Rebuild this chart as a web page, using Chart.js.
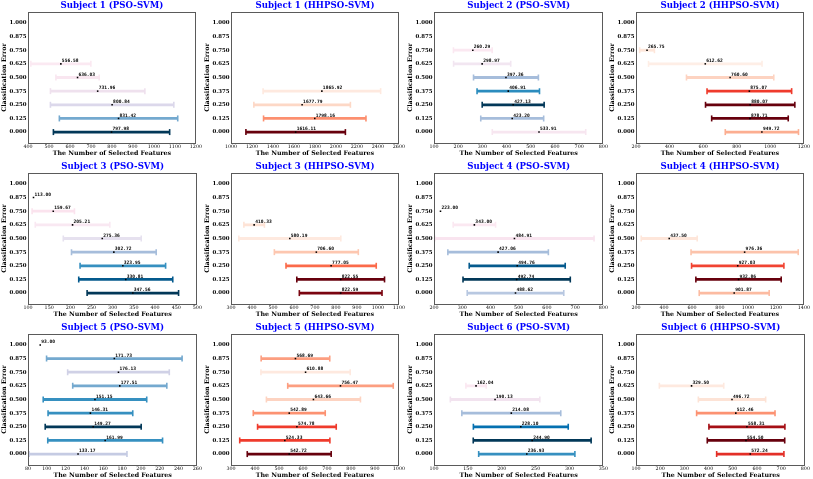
<!DOCTYPE html>
<html>
<head>
<meta charset="utf-8">
<script src="https://cdn.jsdelivr.net/npm/chart.js@4.4.1/dist/chart.umd.min.js"></script>
<style>
  html, body { margin: 0; padding: 0; background: #fff; }
  #wrap { position: relative; width: 813px; height: 479px; overflow: hidden; }
  #wrap canvas { position: absolute; }
</style>
</head>
<body>
<div id="wrap"></div>
<script>
const yTicks = [0, 0.125, 0.25, 0.375, 0.5, 0.625, 0.75, 0.875, 1.0];

// Subject 1
const s1PsoErr = [0.625, 0.5, 0.375, 0.25, 0.125, 0];
const s1PsoMean = [556.58, 636.03, 731.96, 800.84, 831.42, 797.98];
const s1PsoStd = [143, 103, 225, 294, 282, 277];
const s1PsoX = [400, 500, 600, 700, 800, 900, 1000, 1100, 1200];
const s1PsoColors = ['#fbe9f2', '#f9e6f0', '#efe1ee', '#dcd8eb', '#74a9cf', '#023858'];

const s1HhErr = [0.375, 0.25, 0.125, 0];
const s1HhMean = [1865.92, 1677.79, 1798.16, 1616.11];
const s1HhStd = [560, 460, 488, 474];
const s1HhX = [1000, 1200, 1400, 1600, 1800, 2000, 2200, 2400, 2600];
const s1HhColors = ['#fee9df', '#fdd8c6', '#fc8f6f', '#67000d'];

// Subject 2
const s2PsoErr = [0.75, 0.625, 0.5, 0.375, 0.25, 0.125, 0];
const s2PsoMean = [260.29, 298.97, 397.36, 406.91, 427.13, 423.20, 533.91];
const s2PsoStd = [80, 118, 134, 129, 128, 130, 193];
const s2PsoX = [100, 200, 300, 400, 500, 600, 700, 800];
const s2PsoColors = ['#fbe8f1', '#f2e6f1', '#a6bddb', '#2b8cbe', '#023858', '#a6bddb', '#f7e6f0'];

const s2HhErr = [0.75, 0.625, 0.5, 0.375, 0.25, 0.125, 0];
const s2HhMean = [265.75, 612.62, 760.60, 875.07, 880.07, 878.71, 949.72];
const s2HhStd = [44, 338, 260, 252, 266, 228, 218];
const s2HhX = [200, 400, 600, 800, 1000, 1200];
const s2HhColors = ['#fee6da', '#feeee6', '#fdd3c1', '#ef3b2c', '#67000d', '#67000d', '#fcae91'];

// Subject 3
const s3PsoErr = [0.875, 0.75, 0.625, 0.5, 0.375, 0.25, 0.125, 0];
const s3PsoMean = [113.00, 159.67, 205.21, 275.36, 302.72, 323.95, 330.81, 347.56];
const s3PsoStd = [0, 50, 88, 92, 100, 101, 111, 108];
const s3PsoX = [100, 150, 200, 250, 300, 350, 400, 450, 500];
const s3PsoColors = ['#000000', '#fbe3ee', '#f9e8f2', '#e6e1ef', '#a6bddb', '#3690c0', '#045a8d', '#023858'];

const s3HhErr = [0.625, 0.5, 0.375, 0.25, 0.125, 0];
const s3HhMean = [410.33, 580.19, 706.60, 777.05, 822.55, 822.59];
const s3HhStd = [49, 243, 200, 215, 209, 197];
const s3HhX = [300, 400, 500, 600, 700, 800, 900, 1000, 1100];
const s3HhColors = ['#fee3d6', '#fee9df', '#fdc7b0', '#fb6a4a', '#67000d', '#7a0510'];

// Subject 4
const s4PsoErr = [0.75, 0.625, 0.5, 0.375, 0.25, 0.125, 0];
const s4PsoMean = [223.00, 343.00, 484.91, 427.06, 494.76, 492.74, 488.62];
const s4PsoStd = [0, 75, 282, 178, 170, 190, 171];
const s4PsoX = [200, 300, 400, 500, 600, 700, 800];
const s4PsoColors = ['#000000', '#fbe8f1', '#f9e4ef', '#a6bddb', '#045a8d', '#023858', '#b8c8e1'];

const s4HhErr = [0.5, 0.375, 0.25, 0.125, 0];
const s4HhMean = [437.50, 976.36, 927.03, 932.86, 901.87];
const s4HhStd = [200, 383, 330, 305, 250];
const s4HhX = [200, 400, 600, 800, 1000, 1200, 1400];
const s4HhColors = ['#fee6da', '#fcc3ab', '#f14432', '#67000d', '#fcbba1'];

// Subject 5
const s5PsoErr = [1, 0.875, 0.75, 0.625, 0.5, 0.375, 0.25, 0.125, 0];
const s5PsoMean = [93.00, 171.73, 176.13, 177.51, 151.15, 146.31, 149.27, 161.99, 133.17];
const s5PsoStd = [0, 72, 54, 50, 55, 45, 51, 61, 52];
const s5PsoX = [80, 100, 120, 140, 160, 180, 200, 220, 240, 260];
const s5PsoColors = ['#000000', '#74a9cf', '#d0d1e6', '#74a9cf', '#3690c0', '#3690c0', '#023858', '#3690c0', '#c5cbe3'];

const s5HhErr = [0.875, 0.75, 0.625, 0.5, 0.375, 0.25, 0.125, 0];
const s5HhMean = [568.69, 610.88, 756.47, 643.66, 542.89, 574.78, 524.33, 542.72];
const s5HhStd = [143, 186, 220, 196, 150, 164, 188, 175];
const s5HhX = [300, 400, 500, 600, 700, 800, 900, 1000];
const s5HhColors = ['#fc9e80', '#fee9df', '#fc9e80', '#fdd3c1', '#fc9272', '#ef3b2c', '#ef3b2c', '#67000d'];

// Subject 6
const s6PsoErr = [0.625, 0.5, 0.375, 0.25, 0.125, 0];
const s6PsoMean = [162.04, 190.13, 214.08, 228.10, 244.90, 236.93];
const s6PsoStd = [15, 66, 73, 70, 87, 71];
const s6PsoX = [100, 150, 200, 250, 300, 350];
const s6PsoColors = ['#fbe8f1', '#f2e3ef', '#a6bddb', '#0570b0', '#023858', '#3690c0'];

const s6HhErr = [0.625, 0.5, 0.375, 0.25, 0.125, 0];
const s6HhMean = [329.50, 496.72, 512.46, 558.31, 554.50, 572.24];
const s6HhStd = [133, 139, 162, 157, 160, 139];
const s6HhX = [100, 200, 300, 400, 500, 600, 700, 800];
const s6HhColors = ['#fee9df', '#fde3d6', '#fc9272', '#a50f15', '#67000d', '#e32f27'];

const panels = [
  { title: 'Subject 1 (PSO-SVM)', err: s1PsoErr, mean: s1PsoMean, std: s1PsoStd, xt: s1PsoX, colors: s1PsoColors },
  { title: 'Subject 1 (HHPSO-SVM)', err: s1HhErr, mean: s1HhMean, std: s1HhStd, xt: s1HhX, colors: s1HhColors },
  { title: 'Subject 2 (PSO-SVM)', err: s2PsoErr, mean: s2PsoMean, std: s2PsoStd, xt: s2PsoX, colors: s2PsoColors },
  { title: 'Subject 2 (HHPSO-SVM)', err: s2HhErr, mean: s2HhMean, std: s2HhStd, xt: s2HhX, colors: s2HhColors },
  { title: 'Subject 3 (PSO-SVM)', err: s3PsoErr, mean: s3PsoMean, std: s3PsoStd, xt: s3PsoX, colors: s3PsoColors },
  { title: 'Subject 3 (HHPSO-SVM)', err: s3HhErr, mean: s3HhMean, std: s3HhStd, xt: s3HhX, colors: s3HhColors },
  { title: 'Subject 4 (PSO-SVM)', err: s4PsoErr, mean: s4PsoMean, std: s4PsoStd, xt: s4PsoX, colors: s4PsoColors },
  { title: 'Subject 4 (HHPSO-SVM)', err: s4HhErr, mean: s4HhMean, std: s4HhStd, xt: s4HhX, colors: s4HhColors },
  { title: 'Subject 5 (PSO-SVM)', err: s5PsoErr, mean: s5PsoMean, std: s5PsoStd, xt: s5PsoX, colors: s5PsoColors },
  { title: 'Subject 5 (HHPSO-SVM)', err: s5HhErr, mean: s5HhMean, std: s5HhStd, xt: s5HhX, colors: s5HhColors },
  { title: 'Subject 6 (PSO-SVM)', err: s6PsoErr, mean: s6PsoMean, std: s6PsoStd, xt: s6PsoX, colors: s6PsoColors },
  { title: 'Subject 6 (HHPSO-SVM)', err: s6HhErr, mean: s6HhMean, std: s6HhStd, xt: s6HhX, colors: s6HhColors }
];

const colLeft = [0, 203, 406, 608];
const rowTop = [0, 161, 322];
const PANEL_W = 203, PANEL_H = 157;

// box around the plot area
const framePlugin = {
  id: 'frame',
  afterDraw(chart) {
    const { ctx, chartArea: a } = chart;
    ctx.save();
    ctx.strokeStyle = '#5a5a5a';
    ctx.lineWidth = 1;
    ctx.strokeRect(Math.round(a.left) + 0.5, Math.round(a.top) + 0.5,
      Math.round(a.right - a.left) - 1, Math.round(a.bottom - a.top));
    ctx.restore();
  }
};

// panel title above the plot
const titlePlugin = {
  id: 'panelTitle',
  afterDraw(chart, args, opts) {
    const { ctx, chartArea: a } = chart;
    ctx.save();
    ctx.font = 'bold 8.6px "DejaVu Serif"';
    ctx.fillStyle = '#0000ff';
    ctx.textAlign = 'center';
    ctx.textBaseline = 'middle';
    ctx.fillText(opts.text, (a.left + a.right) / 2, 6);
    ctx.restore();
  }
};

// mean value printed next to each marker
const meanLabels = {
  id: 'meanLabels',
  afterDatasetsDraw(chart) {
    const { ctx } = chart;
    chart.data.datasets.forEach((ds, i) => {
      if (!ds.isMean) return;
      const meta = chart.getDatasetMeta(i);
      ctx.save();
      ctx.font = 'bold 4.6px "DejaVu Sans Mono"';
      ctx.fillStyle = '#000';
      ctx.textAlign = 'left';
      ctx.textBaseline = 'alphabetic';
      meta.data.forEach((pt, j) => {
        ctx.fillText(ds.data[j].x.toFixed(2), pt.x + 1, pt.y - 1.8);
      });
      ctx.restore();
    });
  }
};

function makePanel(p, idx) {
  const canvas = document.createElement('canvas');
  canvas.width = PANEL_W;
  canvas.height = PANEL_H;
  canvas.style.left = colLeft[idx % 4] + 'px';
  canvas.style.top = rowTop[Math.floor(idx / 4)] + 'px';
  canvas.style.width = PANEL_W + 'px';
  canvas.style.height = PANEL_H + 'px';
  document.getElementById('wrap').appendChild(canvas);

  const datasets = [];
  p.err.forEach((e, i) => {
    if (!p.std[i]) return;
    datasets.push({
      type: 'line',
      data: [{ x: p.mean[i] - p.std[i], y: e }, { x: p.mean[i] + p.std[i], y: e }],
      borderColor: p.colors[i],
      borderWidth: 2.8,
      showLine: true,
      pointStyle: 'line',
      pointRadius: 3,
      pointRotation: 90,
      pointBorderColor: p.colors[i],
      pointBorderWidth: 1.6,
      order: 2
    });
  });
  datasets.push({
    isMean: true,
    data: p.mean.map((m, i) => ({ x: m, y: p.err[i] })),
    pointStyle: 'rect',
    pointRadius: 1.1,
    backgroundColor: '#000',
    borderWidth: 0,
    order: 0
  });

  new Chart(canvas, {
    type: 'scatter',
    data: { datasets },
    options: {
      responsive: false,
      animation: false,
      layout: { padding: { left: 0, right: 4, top: 12, bottom: 0 } },
      plugins: {
        legend: { display: false },
        tooltip: { enabled: false },
        panelTitle: { text: p.title }
      },
      scales: {
        x: {
          type: 'linear',
          min: p.xt[0],
          max: p.xt[p.xt.length - 1],
          afterBuildTicks: ax => { ax.ticks = p.xt.map(v => ({ value: v })); },
          afterFit: s => { s.height = 14; },
          grid: { display: false, drawTicks: false },
          border: { display: false },
          ticks: {
            color: '#000',
            font: { family: 'DejaVu Serif', size: 4.8 },
            padding: 1,
            maxRotation: 0,
            autoSkip: false,
            callback: v => String(v)
          },
          title: {
            display: true,
            text: 'The Number of Selected Features',
            color: '#000',
            font: { family: 'DejaVu Serif', size: 6.3, weight: 'bold' },
            padding: 0
          }
        },
        y: {
          type: 'linear',
          min: -0.1,
          max: 1.1,
          afterBuildTicks: ax => { ax.ticks = yTicks.map(v => ({ value: v })); },
          afterFit: s => { s.width = 28; },
          grid: { display: false, drawTicks: false },
          border: { display: false },
          ticks: {
            color: '#000',
            font: { family: 'DejaVu Serif', size: 5.4, weight: 'bold' },
            padding: 1.5,
            callback: v => v.toFixed(3)
          },
          title: {
            display: true,
            text: 'Classification Error',
            color: '#000',
            font: { family: 'DejaVu Serif', size: 6.3, weight: 'bold' },
            padding: 1
          }
        }
      }
    },
    plugins: [framePlugin, titlePlugin, meanLabels]
  });
}

panels.forEach(makePanel);
</script>
</body>
</html>
